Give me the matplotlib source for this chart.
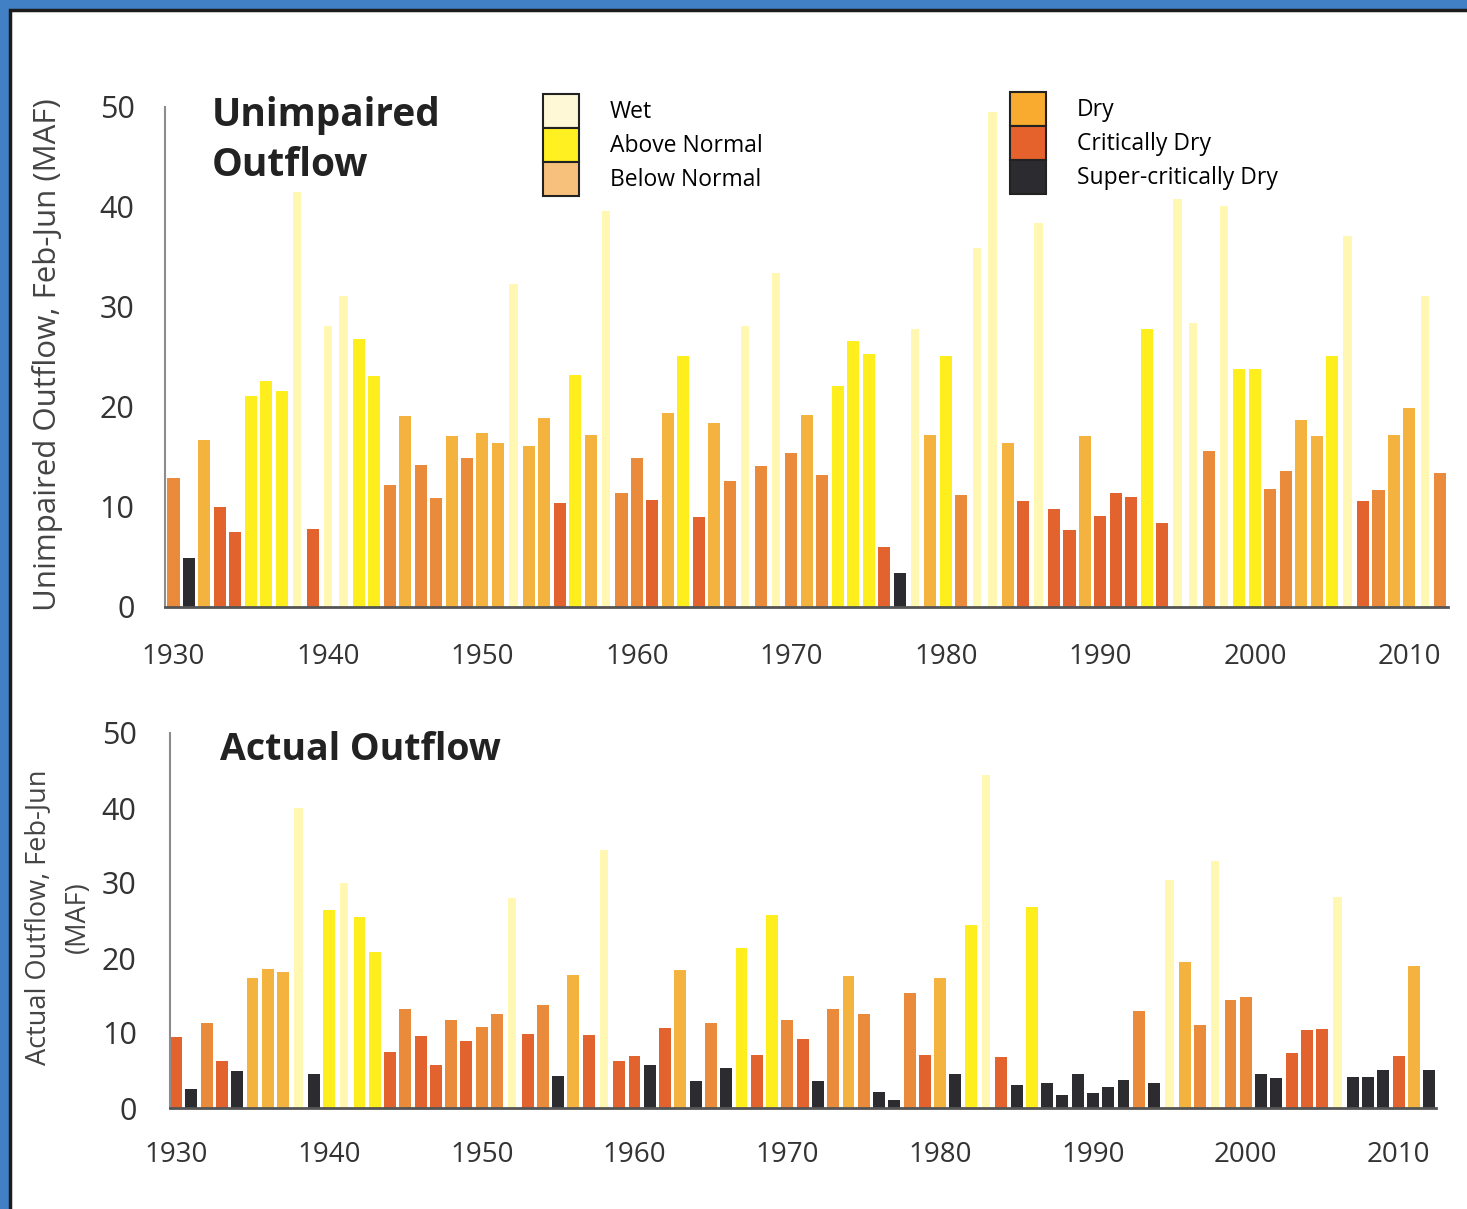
import matplotlib
matplotlib.use('Agg')
import matplotlib.pyplot as plt
from matplotlib.patches import Patch, Rectangle

plt.rcParams['font.family'] = ['Open Sans', 'DejaVu Sans']

years = list(range(1930, 2013))

# unimpaired Delta outflow, Feb-Jun (MAF)
unimpaired = [12.9, 4.9, 16.7, 10.0, 7.5, 21.1, 22.6, 21.6, 41.5, 7.8,
              28.1, 31.1, 26.8, 23.1, 12.2, 19.1, 14.2, 10.9, 17.1, 14.9,
              17.4, 16.4, 32.3, 16.1, 18.9, 10.4, 23.2, 17.2, 39.6, 11.4,
              14.9, 10.7, 19.4, 25.1, 9.0, 18.4, 12.6, 28.1, 14.1, 33.4,
              15.4, 19.2, 13.2, 22.1, 26.6, 25.3, 6.0, 3.4, 27.8, 17.2,
              25.1, 11.2, 35.9, 49.5, 16.4, 10.6, 38.4, 9.8, 7.7, 17.1,
              9.1, 11.4, 11.0, 27.8, 8.4, 40.8, 28.4, 15.6, 40.1, 23.8,
              23.8, 11.8, 13.6, 18.7, 17.1, 25.1, 37.1, 10.6, 11.7, 17.2,
              19.9, 31.1, 13.4]
unimpaired_type = ['D', 'SC', 'BN', 'C', 'C', 'AN', 'AN', 'AN', 'W', 'C',
                   'W', 'W', 'AN', 'AN', 'D', 'BN', 'D', 'D', 'BN', 'D',
                   'BN', 'BN', 'W', 'BN', 'BN', 'C', 'AN', 'BN', 'W', 'D',
                   'D', 'C', 'BN', 'AN', 'C', 'BN', 'D', 'W', 'D', 'W',
                   'D', 'BN', 'D', 'AN', 'AN', 'AN', 'C', 'SC', 'W', 'BN',
                   'AN', 'D', 'W', 'W', 'BN', 'C', 'W', 'C', 'C', 'BN',
                   'C', 'C', 'C', 'AN', 'C', 'W', 'W', 'D', 'W', 'AN',
                   'AN', 'D', 'D', 'BN', 'BN', 'AN', 'W', 'C', 'D', 'BN',
                   'BN', 'W', 'D']

# actual outflow, Feb-Jun (MAF), bottom panel
actual = [9.5, 2.6, 11.3, 6.3, 4.9, 17.3, 18.6, 18.2, 40.0, 4.5,
          26.4, 30.0, 25.5, 20.8, 7.5, 13.2, 9.6, 5.8, 11.7, 8.9,
          10.8, 12.6, 28.0, 9.9, 13.7, 4.3, 17.7, 9.7, 34.4, 6.3,
          6.9, 5.7, 10.7, 18.4, 3.6, 11.3, 5.4, 21.3, 7.1, 25.7,
          11.7, 9.2, 3.6, 13.2, 17.6, 12.6, 2.1, 1.1, 15.4, 7.1,
          17.3, 4.5, 24.4, 44.4, 6.8, 3.1, 26.8, 3.4, 1.7, 4.5,
          2.0, 2.8, 3.7, 13.0, 3.4, 30.4, 19.5, 11.1, 32.9, 14.4,
          14.8, 4.6, 4.0, 7.4, 10.4, 10.6, 28.2, 4.1, 4.1, 5.1,
          6.9, 18.9, 5.1]
actual_type = ['C', 'SC', 'D', 'C', 'SC', 'BN', 'BN', 'BN', 'W', 'SC',
               'AN', 'W', 'AN', 'AN', 'C', 'D', 'C', 'C', 'D', 'C',
               'D', 'D', 'W', 'C', 'D', 'SC', 'BN', 'C', 'W', 'C',
               'C', 'SC', 'C', 'BN', 'SC', 'D', 'SC', 'AN', 'C', 'AN',
               'D', 'C', 'SC', 'D', 'BN', 'D', 'SC', 'SC', 'D', 'C',
               'BN', 'SC', 'AN', 'W', 'C', 'SC', 'AN', 'SC', 'SC', 'SC',
               'SC', 'SC', 'SC', 'D', 'SC', 'W', 'BN', 'D', 'W', 'D',
               'D', 'SC', 'SC', 'C', 'C', 'C', 'W', 'SC', 'SC', 'SC',
               'C', 'BN', 'SC']

type_codes = ['W', 'AN', 'BN', 'D', 'C', 'SC']
type_names = ['Wet', 'Above Normal', 'Below Normal',
              'Dry', 'Critically Dry', 'Super-critically Dry']
bar_colors = {'W': '#FFF7B2', 'AN': '#FFEE1E', 'BN': '#F4B23E',
              'D': '#E98B3A', 'C': '#E2632E', 'SC': '#2B2B30'}
legend_colors = {'W': '#FFF8D6', 'AN': '#FFF021', 'BN': '#F7C17C',
                 'D': '#F8AB2E', 'C': '#E6622C', 'SC': '#2B2B30'}

W, H = 1467, 1209
fig = plt.figure(figsize=(W / 100, H / 100), dpi=100, facecolor='#4280c6')
fig.patches.append(Rectangle((10 / W, -0.02), 1.05, 1.02 - 10 / H,
                             transform=fig.transFigure, facecolor='white',
                             edgecolor='#1c1c1c', linewidth=2.5, zorder=-5))

ax1 = fig.add_axes([165 / W, 1 - 607 / H, 1283 / W, 500 / H])
ax2 = fig.add_axes([170 / W, 1 - 1108 / H, 1266 / W, 375 / H])

for ax, vals, kinds, xl, ypad, xpad in [(ax1, unimpaired, unimpaired_type, (1929.45, 2012.5), 22, 26),
                                         (ax2, actual, actual_type, (1929.6, 2012.45), 24, 24)]:
    widths = [0.55 if k == 'W' else 0.78 for k in kinds]
    ax.bar(years, vals, width=widths, color=[bar_colors[k] for k in kinds])
    ax.set_xlim(xl)
    ax.set_ylim(0, 50)
    ax.set_yticks(range(0, 51, 10))
    ax.set_xticks(range(1930, 2011, 10))
    ax.patch.set_alpha(0)
    for s in ['top', 'right']:
        ax.spines[s].set_visible(False)
    ax.spines['left'].set_color('#8c8c8c')
    ax.spines['left'].set_linewidth(1.5)
    ax.spines['bottom'].set_color('#555555')
    ax.spines['bottom'].set_linewidth(2)
    ax.tick_params(axis='y', length=0, pad=ypad, labelsize=22, labelcolor='#333333')
    ax.tick_params(axis='x', length=0, pad=xpad, labelsize=20, labelcolor='#333333')

fig.text(212 / W, 1 - 96 / H, 'Unimpaired\nOutflow', fontsize=28, fontweight='bold',
         color='#222222', va='top', ha='left', linespacing=1.35)
fig.text(220 / W, 1 - 750 / H, 'Actual Outflow', fontsize=27, fontweight='bold',
         color='#222222', va='center', ha='left')

fig.text(48 / W, 1 - 355 / H, 'Unimpaired Outflow, Feb-Jun (MAF)', rotation=90,
         fontsize=22.5, color='#444444', ha='center', va='center')
fig.text(58 / W, 1 - 917 / H, 'Actual Outflow, Feb-Jun\n(MAF)', rotation=90,
         fontsize=19.5, color='#444444', ha='center', va='center',
         multialignment='center', linespacing=1.6)

# legend in two separate blocks of three
handles = [Patch(facecolor=legend_colors[c], edgecolor='#222222', linewidth=1.5) for c in type_codes]
leg_kw = dict(frameon=False, fontsize=16.5, handlelength=1.55, handleheight=1.9,
              labelspacing=0.0, handletextpad=1.36, borderpad=0, borderaxespad=0,
              loc='upper left', bbox_transform=fig.transFigure)
leg1 = ax1.legend(handles[:3], type_names[:3], bbox_to_anchor=(543 / W, 1 - 94 / H), **leg_kw)
ax1.add_artist(leg1)
ax1.legend(handles[3:], type_names[3:], bbox_to_anchor=(1010 / W, 1 - 92 / H), **leg_kw)

fig.savefig('out.png', dpi=100, facecolor=fig.get_facecolor())
